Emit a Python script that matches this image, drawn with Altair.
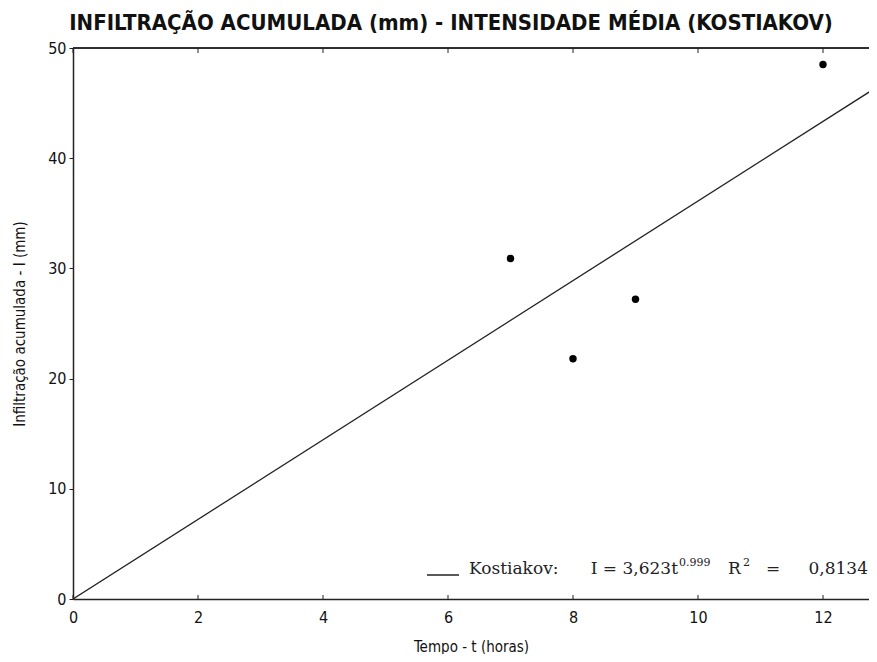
import altair as alt
import pandas as pd

# observed data
tempo = [7, 8, 9, 12]
infiltracao = [30.9, 21.8, 27.2, 48.5]

# fitted Kostiakov curve
tempo_fit = [0, 13]
infiltracao_fit = [0, 46.95]

x_ticks = [0, 2, 4, 6, 8, 10, 12]
y_ticks = [0, 10, 20, 30, 40, 50]

obs = pd.DataFrame({"t": tempo, "I": infiltracao})
fit = pd.DataFrame({"t": tempo_fit, "I": infiltracao_fit})
xt = pd.DataFrame({"t": x_ticks})

W, H = 796, 551
NARROW = "DejaVu Sans Condensed, Roboto"
SERIF = "DejaVu Serif"

xscale = alt.Scale(domain=[0, W / 62.5], nice=False, zero=False)
yscale = alt.Scale(domain=[0, 50], nice=False)

xenc = alt.X("t:Q", scale=xscale,
             axis=alt.Axis(values=x_ticks, format="d", title="Tempo - t (horas)", grid=False,
                           tickSize=0, labelPadding=10, labelFontSize=16,
                           labelFont=NARROW, labelColor="#111", titleFont=NARROW,
                           titleFontSize=15, titleFontWeight="normal", titlePadding=14,
                           titleColor="#111", domainColor="#222", domainWidth=1.5,
                           labelFlush=False))
yenc = alt.Y("I:Q", scale=yscale,
             axis=alt.Axis(values=y_ticks, format="d", title="Infiltração acumulada - I (mm)",
                           grid=False, tickSize=4, tickColor="#222", labelPadding=3,
                           labelFontSize=16, labelFont=NARROW, labelColor="#111",
                           titleFont=NARROW, titleFontSize=15, titleFontWeight="normal",
                           titlePadding=20, titleColor="#111", domainColor="#222",
                           domainWidth=1.5, labelFlush=False))

line = alt.Chart(fit).mark_line(color="#222", strokeWidth=1.3, clip=True).encode(x=xenc, y=yenc)
pts = alt.Chart(obs).mark_circle(color="black", size=55, opacity=1).encode(
    x=alt.X("t:Q", scale=xscale), y=alt.Y("I:Q", scale=yscale))

bottom_ticks = alt.Chart(xt).mark_rule(color="#222", strokeWidth=1).encode(
    x=alt.X("t:Q", scale=xscale), y=alt.value(H), y2=alt.value(H - 4))
top_ticks = alt.Chart(xt).mark_rule(color="#222", strokeWidth=1).encode(
    x=alt.X("t:Q", scale=xscale), y=alt.value(0), y2=alt.value(5))
top_border = alt.Chart(fit).mark_rule(color="#222", strokeWidth=1.5).encode(
    x=alt.value(0), x2=alt.value(W), y=alt.value(0))

leg_line = alt.Chart(fit).mark_rule(color="#222", strokeWidth=1).encode(
    x=alt.value(354), x2=alt.value(386), y=alt.value(527))


def txt(s, x, y, size=17, align="left"):
    return alt.Chart(pd.DataFrame({"s": [s]})).mark_text(
        font=SERIF, fontSize=size, align=align, baseline="alphabetic", color="#222"
    ).encode(text="s:N", x=alt.value(x), y=alt.value(y))


legend = [
    txt("Kostiakov:", 396, 526),
    txt("I = 3,623t", 605, 526, align="right"),
    txt("0.999", 606, 518, size=11),
    txt("R", 655, 526),
    txt("2", 670, 518, size=11),
    txt("=", 693, 526),
    txt("0,8134", 795, 526, align="right"),
]

chart = alt.layer(line, pts, bottom_ticks, top_ticks, top_border, leg_line, *legend).properties(
    width=W, height=H,
    title=alt.TitleParams("INFILTRAÇÃO ACUMULADA (mm) - INTENSIDADE MÉDIA (KOSTIAKOV)",
                          font=NARROW, fontSize=22, fontWeight="bold", color="#111",
                          anchor="middle", offset=5, dx=-20),
    autosize=alt.AutoSizeParams(type="none"),
    padding={"left": 65, "top": 40, "right": 0, "bottom": 55},
).configure_view(stroke=None).configure(background="white")

chart.save("out.html", embed_options={"renderer": "svg", "actions": False})
